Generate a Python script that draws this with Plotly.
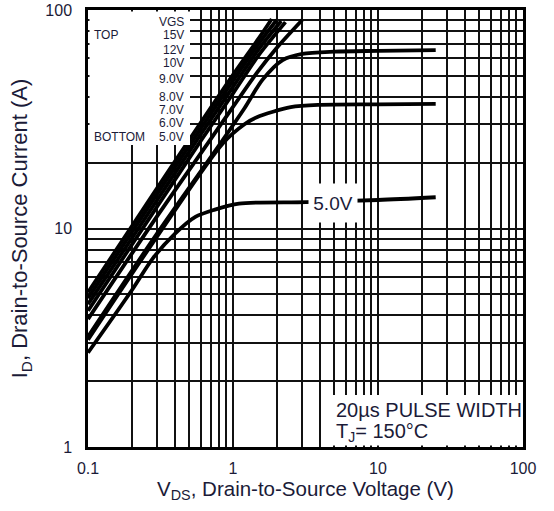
import plotly.graph_objects as go

# Output characteristics, VDS (V) vs ID (A), one curve per gate voltage
vgs_labels = ["15V", "12V", "10V", "9.0V", "8.0V", "7.0V", "6.0V", "5.0V"]

vds_15v = [0.1, 0.3, 0.6, 1.0, 1.5, 1.85]
id_15v = [5.1, 15.3, 30.5, 50.5, 74.0, 91.0]

vds_12v = [0.1, 0.3, 0.6, 1.0, 1.5, 2.0]
id_12v = [4.8, 14.4, 28.7, 47.5, 70.0, 90.0]

vds_10v = [0.1, 0.3, 0.6, 1.0, 1.5, 2.15]
id_10v = [4.5, 13.5, 27.0, 44.5, 66.0, 89.0]

vds_9v = [0.1, 0.3, 0.6, 1.0, 1.5, 2.3]
id_9v = [4.2, 12.6, 25.2, 41.5, 62.0, 88.0]

vds_8v = [0.1, 0.3, 0.7, 1.0, 1.46, 2.0, 3.0]
id_8v = [3.85, 11.4, 25.6, 36.0, 51.5, 67.0, 90.0]

vds_7v = [0.1, 0.3, 0.85, 1.2, 1.6, 2.2, 3.0, 5.0, 10.0, 25.0]
id_7v = [3.2, 9.5, 25.4, 35.5, 48.0, 59.0, 63.0, 64.5, 65.0, 65.5]

vds_6v = [0.1, 0.3, 0.85, 1.2, 1.46, 2.5, 4.0, 10.0, 25.0]
id_6v = [3.1, 9.2, 24.5, 30.0, 32.3, 35.9, 36.8, 37.0, 37.2]

vds_5v = [0.1, 0.2, 0.28, 0.4, 0.55, 0.75, 1.1, 3.2, 10.0, 25.0]
id_5v = [2.7, 5.2, 7.3, 9.5, 11.3, 12.2, 13.0, 13.2, 13.5, 13.9]

x_tickvals = [m * 10 ** e for e in (-1, 0, 1) for m in range(1, 10)] + [100]
x_ticktext = ["0.1" if v == 0.1 else "1" if v == 1 else "10" if v == 10 else "100" if v == 100 else "" for v in x_tickvals]
y_tickvals = [m * 10 ** e for e in (0, 1) for m in range(1, 10)] + [100]
y_ticktext = ["1" if v == 1 else "10" if v == 10 else "100" if v == 100 else "" for v in y_tickvals]

curves = [
    (vds_15v, id_15v), (vds_12v, id_12v), (vds_10v, id_10v), (vds_9v, id_9v),
    (vds_8v, id_8v), (vds_7v, id_7v), (vds_6v, id_6v), (vds_5v, id_5v),
]

TXT = "#1b1b38"
FONT = "Liberation Sans, Arial, sans-serif"

fig = go.Figure()
for (xs, ys), name in zip(curves, vgs_labels):
    fig.add_trace(go.Scatter(
        x=xs, y=ys, mode="lines", name=name,
        line=dict(color="black", width=3.8, shape="spline", smoothing=0.8),
        hoverinfo="skip", showlegend=False,
    ))

axis_common = dict(
    type="log", showgrid=True, gridcolor="#111111", gridwidth=1.5,
    showline=True, linecolor="black", linewidth=2.5, mirror=True,
    ticks="outside", tickcolor="rgba(0,0,0,0)", zeroline=False, automargin=False,
    tickfont=dict(family=FONT, size=16, color=TXT),
)

fig.update_xaxes(
    range=[-1, 2], tickvals=x_tickvals, ticktext=x_ticktext, ticklen=5,
    title=dict(text="V<sub>DS</sub>, Drain-to-Source Voltage (V)",
               font=dict(family=FONT, size=20.5, color=TXT), standoff=4),
    **axis_common,
)
fig.update_yaxes(
    range=[0, 2], tickvals=y_tickvals, ticktext=y_ticktext, ticklen=10,
    title=dict(text="I<sub>D</sub>, Drain-to-Source Current (A)",
               font=dict(family=FONT, size=22, color=TXT), standoff=12),
    **axis_common,
)

W, H = 435.0, 437.0  # plot area size in px
ex, ey = 1.5 / W, 1.5 / H

# white panels behind the key and the test-condition note
fig.add_shape(type="rect", xref="paper", yref="paper", x0=ex, x1=0.2345, y0=0.691, y1=1 - ey,
              fillcolor="white", line=dict(width=0), layer="above")
fig.add_shape(type="rect", xref="paper", yref="paper", x0=0.5586, x1=1 - ex, y0=ey, y1=0.119,
              fillcolor="white", line=dict(width=0), layer="above")


def px(xp, yp):
    return (xp - 88) / W, (447 - yp) / H


key_rows = [("VGS", 22)] + list(zip(vgs_labels, [35, 50, 63, 79, 97, 110, 123, 137]))
for label, yp in key_rows:
    xx, yy = px(186, yp)
    fig.add_annotation(xref="paper", yref="paper", x=xx, y=yy, text=label, showarrow=False,
                       xanchor="right", yanchor="middle",
                       font=dict(family=FONT, size=12, color=TXT))
for label, yp in (("TOP", 35), ("BOTTOM", 137)):
    xx, yy = px(92, yp)
    fig.add_annotation(xref="paper", yref="paper", x=xx, y=yy, text=label, showarrow=False,
                       xanchor="left", yanchor="middle",
                       font=dict(family=FONT, size=12, color=TXT))

xx, yy = px(334, 410)
fig.add_annotation(xref="paper", yref="paper", x=xx, y=yy, text="20µs PULSE WIDTH",
                   showarrow=False, xanchor="left", yanchor="middle",
                   font=dict(family=FONT, size=20, color=TXT))
xx, yy = px(334, 432)
fig.add_annotation(xref="paper", yref="paper", x=xx, y=yy, text="T<sub>J</sub>= 150°C",
                   showarrow=False, xanchor="left", yanchor="middle",
                   font=dict(family=FONT, size=20, color=TXT))

# inline label on the 5.0V curve
fig.add_annotation(x=0.69, y=1.117, xref="x", yref="y", text="5.0V", showarrow=False,
                   bgcolor="white", width=46, height=36,
                   font=dict(family=FONT, size=19, color=TXT))

fig.update_layout(
    width=554, height=511,
    margin=dict(l=88, r=31, t=10, b=64),
    paper_bgcolor="white", plot_bgcolor="white",
)

fig.write_html("out.html")
